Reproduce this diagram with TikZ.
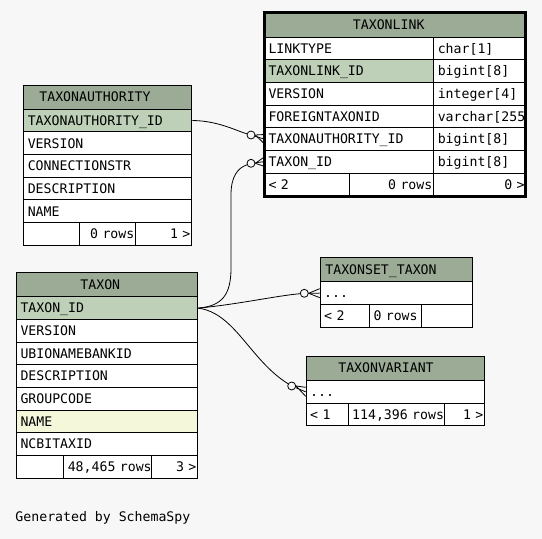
\documentclass[tikz,border=0pt]{standalone}
\usepackage{fontspec}
\setmonofont{DejaVu Sans Mono}
\usetikzlibrary{calc}

\definecolor{bgcol}{HTML}{F7F7F7}
\definecolor{headcol}{HTML}{9BAB96}
\definecolor{pkcol}{HTML}{BED1B8}
\definecolor{idxcol}{HTML}{F4F7DA}

\tikzset{
    cell/.style={draw, line width=1pt, fill=white, anchor=north west, inner xsep=4pt, inner ysep=0pt,
        minimum height=22.67pt, text width=#1, align=left, text height=9.6pt, text depth=0pt},
    rcell/.style={cell=#1, align=right, inner xsep=1.5pt},
    headbox/.style={draw, line width=1pt, fill=headcol, anchor=north west, inner sep=0pt, minimum height=24pt},
    tabtitle/.style={inner sep=0pt, text height=9.6pt, text depth=0pt},
    fkline/.style={line width=0.8pt},
    ocirc/.style={draw, line width=0.8pt, fill=bgcol, circle, inner sep=0pt, minimum size=8pt}
}

\newcommand{\manyend}[2]{%
    \draw[fkline] (#1) -- (#2);
    \draw[fkline] (#1.east) -- ($(#2)+(0,-4.5)$);
    \draw[fkline] (#1.east) -- ($(#2)+(0,4.5)$);
}

\begin{document}
\begin{tikzpicture}[x=1pt,y=-1pt,font=\ttfamily\fontsize{13.2pt}{15pt}\selectfont]
    \fill[bgcol] (0,0) rectangle (542,539);
    \useasboundingbox (0,0) rectangle (542,539);

    \begin{scope}[shift={(264,12.5)}]
        \clip (0,0) rectangle (261.7,184);
        \node[headbox, minimum width=261.7pt] (tl-head) at (0,0) {};
        \node[tabtitle] (tl-title) at (124.7,12) {TAXONLINK};
        \foreach \i/\fld/\typ/\fc in {0/LINKTYPE/char[1]/white, 1/TAXONLINK\_ID/bigint[8]/pkcol,
            2/VERSION/integer[4]/white, 3/FOREIGNTAXONID/varchar[255]/white,
            4/TAXONAUTHORITY\_ID/bigint[8]/white, 5/TAXON\_ID/bigint[8]/white}{
            \node[cell=161.3pt, fill=\fc] (tl-\i) at (0,{24+22.67*\i}) {\fld};
            \node[cell=84.4pt] (tl-t\i) at (169.3,{24+22.67*\i}) {\typ};
        }
        \node[cell=77.3pt] (tl-f1) at (0,160) {< 2};
        \node[rcell=81pt] (tl-f2) at (85.3,160) {\mbox{0 rows}};
        \node[rcell=89.4pt] (tl-f3) at (169.3,160) {0 >};
    \end{scope}
    \draw[line width=3pt] (264,12.5) rectangle (525.7,196.5);

    \begin{scope}[shift={(23.3,84.7)}]
        \node[headbox, minimum width=168pt] (ta-head) at (0,0) {};
        \node[tabtitle] (ta-title) at (71.7,12) {TAXONAUTHORITY};
        \foreach \i/\fld/\fc in {0/TAXONAUTHORITY\_ID/pkcol, 1/VERSION/white,
            2/CONNECTIONSTR/white, 3/DESCRIPTION/white, 4/NAME/white}{
            \node[cell=160pt, fill=\fc] (ta-\i) at (0,{24+22.67*\i}) {\fld};
        }
        \node[cell=48pt] (ta-f1) at (0,137.35) {};
        \node[rcell=53pt] (ta-f2) at (56,137.35) {\mbox{0 rows}};
        \node[rcell=53pt] (ta-f3) at (112,137.35) {1 >};
    \end{scope}

    \begin{scope}[shift={(16,272.3)}]
        \node[headbox, minimum width=181.3pt] (tx-head) at (0,0) {};
        \node[tabtitle] (tx-title) at (84.3,12) {TAXON};
        \foreach \i/\fld/\fc in {0/TAXON\_ID/pkcol, 1/VERSION/white, 2/UBIONAMEBANKID/white,
            3/DESCRIPTION/white, 4/GROUPCODE/white, 5/NAME/idxcol, 6/NCBITAXID/white}{
            \node[cell=173.3pt, fill=\fc] (tx-\i) at (0,{24+22.67*\i}) {\fld};
        }
        \node[cell=39.3pt] (tx-f1) at (0,182.7) {};
        \node[cell=80pt] (tx-f2) at (47.3,182.7) {\mbox{48,465 rows}};
        \node[rcell=43pt] (tx-f3) at (135.3,182.7) {3 >};
    \end{scope}

    \begin{scope}[shift={(319.7,257.3)}]
        \node[headbox, minimum width=152pt] (ts-head) at (0,0) {};
        \node[tabtitle] (ts-title) at (61.3,12) {TAXONSET\_TAXON};
        \node[cell=144pt] (ts-0) at (0,24) {...};
        \node[cell=41.3pt] (ts-f1) at (0,46.67) {< 2};
        \node[cell=44pt] (ts-f2) at (49.3,46.67) {\mbox{0 rows}};
        \node[cell=42.7pt] (ts-f3) at (101.3,46.67) {};
    \end{scope}

    \begin{scope}[shift={(305.7,356)}]
        \node[headbox, minimum width=178.6pt] (tv-head) at (0,0) {};
        \node[tabtitle] (tv-title) at (80.3,12) {TAXONVARIANT};
        \node[cell=170.6pt] (tv-0) at (0,24) {...};
        \node[cell=34pt] (tv-f1) at (0,46.67) {< 1};
        \node[cell=88pt] (tv-f2) at (42,46.67) {\mbox{114,396 rows}};
        \node[rcell=37.6pt] (tv-f3) at (138,46.67) {1 >};
    \end{scope}

    \node[ocirc] (c1) at (251,135) {};
    \node[ocirc] (c2) at (251,163.3) {};
    \node[ocirc] (c3) at (304.3,293.3) {};
    \node[ocirc] (c4) at (291.7,386) {};

    \draw[fkline] (ta-0.east) .. controls +(25,0) and +(-14,-4) .. (c1);
    \draw[fkline] (tx-0.east) .. controls (222,306) and (231,295) .. (231,268) -- (231,195)
        .. controls (231,176) and (238,168) .. (c2);
    \draw[fkline] (tx-0.east) .. controls (240,304) and (275,296) .. (c3);
    \draw[fkline] (tx-0.east) .. controls (235,313) and (250,360) .. (c4);
    \manyend{c1}{tl-4.west}
    \manyend{c2}{tl-5.west}
    \manyend{c3}{ts-0.west}
    \manyend{c4}{tv-0.west}

    \node[anchor=west, inner sep=0pt, text height=9.6pt, text depth=0pt] (credit) at (15.3,516.7) {Generated by SchemaSpy};
\end{tikzpicture}
\end{document}
